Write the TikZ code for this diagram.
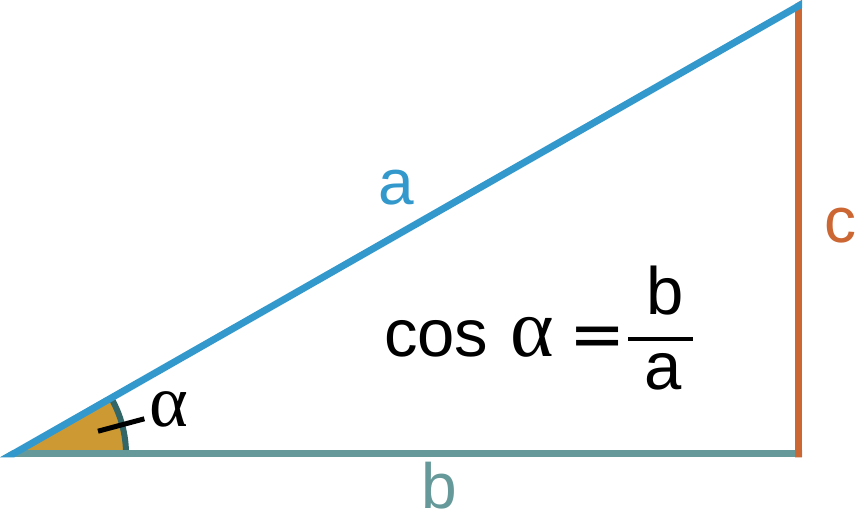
\documentclass[tikz,border=0pt]{standalone}
\usepackage{fontspec}
\setmainfont{Liberation Sans}
\newfontfamily\greekfont{Liberation Serif}
\newfontfamily\eqfont{DejaVu Sans}
\usepackage{xcolor}
\usepackage{tikz}
\usetikzlibrary{positioning,calc}

\definecolor{hypblue}{HTML}{3399CC}
\definecolor{adjteal}{HTML}{669999}
\definecolor{oppred}{HTML}{CC6633}
\definecolor{wedgegold}{HTML}{CC9933}
\definecolor{arcdark}{HTML}{336666}

\begin{document}
\begin{tikzpicture}[x=1bp,y=1bp,
    side/.style={line width=7bp},
    lbl/.style={inner sep=0, anchor=base, font=\fontsize{64bp}{70bp}\selectfont},
    eq/.style={inner sep=0, anchor=base, font=\fontsize{67bp}{72bp}\selectfont}]
    \useasboundingbox (0,0) rectangle (856,514);
    \coordinate (A) at (13,60);
    \coordinate (B) at (798.5,60);
    \coordinate (C) at (798.5,508);
    % angle wedge
    \fill[wedgegold] (A) -- ++(0:113) arc[start angle=0, end angle=29.7, radius=113bp] -- cycle;
    \draw[arcdark, line width=6bp] (A) ++(0:113) arc[start angle=0, end angle=29.7, radius=113bp];
    % sides
    \begin{scope}
        \clip (-0.2,56.5) -- (802,56.5) -- (802,514) -- cycle;
        \draw[side, adjteal, shorten <=-20bp, shorten >=-5bp] (A) -- (B);
        \draw[side, oppred, shorten <=-5bp, shorten >=-10bp] (B) -- (C);
        \draw[side, hypblue, shorten <=-20bp, shorten >=-10bp] (A) -- (C);
    \end{scope}
    \draw[line width=5bp] (A) ++(15:88) -- ++(15:48);
    % labels
    \node[lbl, hypblue] (la) at (396,309) {a};
    \node[lbl, adjteal] (lb) at (439,5) {b};
    \node[lbl, oppred] (lc) at (840,271) {c};
    \node[lbl, font=\fontsize{74bp}{80bp}\greekfont] (alpha) at (169,87) {α};
    % formula
    \node[eq, anchor=base west] (cos) at (384,157) {cos};
    \node[eq, font=\fontsize{83bp}{90bp}\greekfont] (alph) at (532,157) {α};
    \node[eq, font=\fontsize{67bp}{72bp}\eqfont] (equal) at (597.5,156) {=};
    \node[fill=black, inner sep=0, minimum width=65bp, minimum height=4bp] (bar) at (660.5,175) {};
    \node[eq] (num) at (665,199) {b};
    \node[eq] (den) at (663.5,124) {a};
\end{tikzpicture}
\end{document}
